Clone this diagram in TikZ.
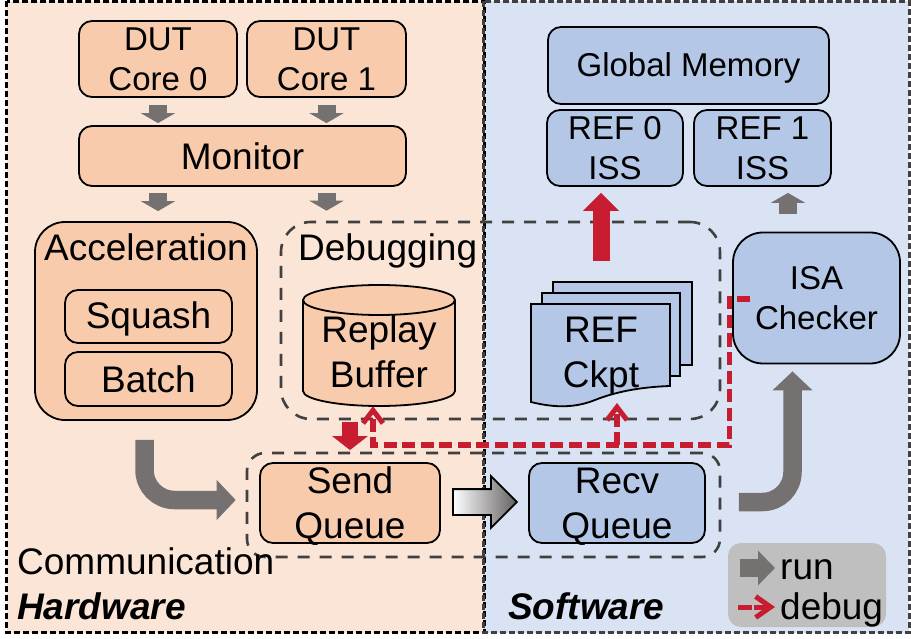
\documentclass[tikz,border=0pt]{standalone}
\usepackage{fontspec}
\setmainfont{Liberation Sans}
\usetikzlibrary{arrows.meta,positioning,shapes.arrows}

\definecolor{hwpanel}{HTML}{FBE5D6}
\definecolor{swpanel}{HTML}{DAE3F3}
\definecolor{hwfill}{HTML}{F8CBAD}
\definecolor{swfill}{HTML}{B4C7E7}
\definecolor{rungray}{HTML}{767171}
\definecolor{dashgray}{HTML}{404040}
\definecolor{dbgred}{HTML}{C81D31}
\definecolor{legendgray}{HTML}{BFBFBF}

\newcommand{\bigfont}{\fontsize{37}{45}\selectfont}
\newcommand{\midfont}{\fontsize{33}{40}\selectfont}

\begin{document}
\begin{tikzpicture}[x=1pt,y=-1pt,
    panel/.style={rectangle,inner sep=0,minimum width=#1,minimum height=631pt},
    unit/.style={rectangle,draw=black,line width=1.8pt,rounded corners=13pt,inner sep=0,align=center,font=\midfont},
    hwunit/.style={unit,fill=hwfill},
    swunit/.style={unit,fill=swfill},
    queue/.style={minimum height=80pt,font=\bigfont,text depth=-8pt},
    group/.style={rectangle,draw=dashgray,line width=2.6pt,dash pattern=on 12pt off 10pt,inner sep=0},
    label/.style={inner sep=0,anchor=base west,font=\bigfont},
    run/.style={draw=rungray,line width=18pt,-{Triangle[length=10pt,width=34pt]}},
    bigrun/.style={draw=rungray,line width=18.5pt,rounded corners=30pt,-{Triangle[length=19pt,width=39pt]}},
    dbgblock/.style={draw=dbgred,-{Triangle[length=#1,width=35pt]}},
    dbg/.style={draw=dbgred,line width=5.2pt,dash pattern=on 13pt off 5.5pt,
                -{Straight Barb[length=13pt,width=20pt,line width=5pt]}},
    ckptpage/.style={draw=black,line width=1.8pt,fill=swfill}]
    \useasboundingbox (0,0) rectangle (911,639);

    % panels
    \node[panel=477pt,fill=hwpanel]  (hw) at (245.5,317) {};
    \node[panel=425pt,fill=swpanel]  (sw) at (696.5,317) {};
    \draw[black,line width=3.2pt,dash pattern=on 6pt off 3pt] (hw.north west) rectangle (hw.south east);
    \draw[dashgray,line width=3.2pt,dash pattern=on 6pt off 3pt] (sw.north west) rectangle (sw.south east);

    % dashed groups
    \node[group,rounded corners=30pt,minimum width=439pt,minimum height=197pt] (debugbox) at (500.5,320.5) {};
    \node[group,rounded corners=18pt,minimum width=473pt,minimum height=104pt] (commbox)  at (483.5,505) {};

    % hardware side
    \node[hwunit,minimum width=158pt,minimum height=76pt] (core0) at (158,59) {DUT\\Core 0};
    \node[hwunit,minimum width=159pt,minimum height=76pt,node distance=168.5pt] (core1) [right of=core0] {DUT\\Core 1};
    \node[hwunit,minimum width=327pt,minimum height=60pt,font=\bigfont] (monitor) at (242.5,156) {Monitor};
    \node[hwunit,rounded corners=30pt,minimum width=222pt,minimum height=198pt] (accel) at (146,321) {};
    \node[hwunit,minimum width=167pt,minimum height=53pt,font=\bigfont,text depth=3pt] (squash) at (148.5,316.5) {Squash};
    \node[hwunit,minimum width=167pt,minimum height=54pt,font=\bigfont,node distance=62.5pt] (batch) [below of=squash] {Batch};
    \node[hwunit,queue,minimum width=180pt] (sendq) at (350,503) {Send\\Queue};

    % replay buffer
    \draw[black,line width=1.8pt,fill=hwfill] (303,300) -- (303,391) arc[start angle=180,end angle=0,x radius=76,y radius=15] -- (455,300);
    \draw[black,line width=1.8pt,fill=hwfill] (379,300) ellipse [x radius=76,y radius=15];
    \node[inner sep=0,minimum width=152pt,minimum height=121pt] (buffer) at (379,345.5) {};
    \node[inner sep=0,align=center,font=\bigfont] (buftext) at (379,352) {Replay\\Buffer};

    % software side
    \node[swunit,minimum width=281pt,minimum height=77pt,text depth=1pt] (mem) at (688.5,65.5) {Global Memory};
    \node[swunit,minimum width=136pt,minimum height=76pt] (ref0) at (615,148) {REF 0\\ISS};
    \node[swunit,minimum width=137pt,minimum height=76pt,node distance=147.5pt] (ref1) [right of=ref0] {REF 1\\ISS};
    \node[swunit,rounded corners=30pt,minimum width=167pt,minimum height=131pt] (isa) at (816.5,298) {ISA\\Checker};
    \node[swunit,queue,minimum width=176pt] (recvq) at (617,503) {Recv\\Queue};

    % checkpoint pages
    \draw[ckptpage] (553,282) rectangle (692,365);
    \draw[ckptpage] (542,293) rectangle (680,376);
    \draw[ckptpage] (531,304) -- (670,304) -- (670,386) .. controls (640,387) and (615,392) .. (595,400)
                    .. controls (575,408) and (555,408) .. (531,402) -- cycle;
    \node[inner sep=0,align=center,font=\bigfont] (ckpt) at (601,356) {REF\\Ckpt};

    % texts
    \node[label] (accellab) at (44,261)  {Acceleration};
    \node[label] (debuglab) at (298,261) {Debugging};
    \node[label] (commlab)  at (17,574)  {Communication};
    \node[label,font=\bigfont\bfseries\itshape] (hwlab) at (17,619)  {Hardware};
    \node[label,font=\bigfont\bfseries\itshape] (swlab) at (508,619) {Software};

    % run arrows
    \draw[run,shorten <=7pt,shorten >=2pt]  (core0.south) -- (core0.south |- monitor.north);
    \draw[run,shorten <=7pt,shorten >=2pt]  (core1.south) -- (core1.south |- monitor.north);
    \draw[run,shorten <=6pt,shorten >=10pt] (monitor.south -| core0.south) -- (core0.south |- accel.north);
    \draw[run,shorten <=6pt,shorten >=10pt] (monitor.south -| core1.south) -- (core1.south |- debugbox.north);
    \draw[run,shorten <=18pt,shorten >=6pt] ([xshift=-28.5pt]isa.north) -- ([xshift=25.5pt]ref1.south);
    \draw[bigrun,shorten <=19pt,shorten >=10pt] ([xshift=-1.5pt]accel.south) |- ([yshift=5pt]commbox.west);
    \draw[bigrun,shorten <=33pt,shorten >=7pt] ([yshift=1pt]recvq.east) -| ([xshift=-24pt]isa.south);
    \node[single arrow,draw=black,line width=1.8pt,left color=white,right color=rungray!85!black,
          inner xsep=0pt,inner ysep=12pt,minimum height=64pt,single arrow head extend=13pt,
          single arrow head indent=0pt] (pipe) at (478.5,502) {};

    % debug arrows
    \draw[dbgblock=18pt,line width=17pt,shorten <=95pt,shorten >=6pt] (ckpt.center) -- (ckpt.center |- ref0.south);
    \draw[dbgblock=14pt,line width=16pt,shorten <=16pt,shorten >=12pt] (buffer.south -| sendq.north) -- (sendq.north);
    \coordinate (tee) at (617,445);
    \draw[dbg] ([shift={(18pt,-1pt)}]isa.west) -- ++(-21pt,0) |- (tee) -| ([xshift=-6pt]buffer.south);
    \draw[dbg] (tee) -- (617,403);

    % legend
    \node[rectangle,fill=legendgray,rounded corners=13pt,inner sep=0,minimum width=158pt,minimum height=84pt] (legend) at (807,585) {};
    \node[label] (runtext) at (780,579) {run};
    \node[label] (dbgtext) at (780,619) {debug};
    \draw[run,-{Triangle[length=17pt,width=34pt]}] ([shift={(12pt,17pt)}]legend.west) -- ([xshift=-5pt,yshift=11pt]runtext.base west);
    \draw[draw=dbgred,line width=5pt,dash pattern=on 14pt off 2pt,-{Straight Barb[length=15pt,width=21pt,line width=5pt]}]
        ([shift={(10pt,-22pt)}]legend.west) -- ([xshift=-5pt,yshift=12pt]dbgtext.base west);
\end{tikzpicture}
\end{document}
